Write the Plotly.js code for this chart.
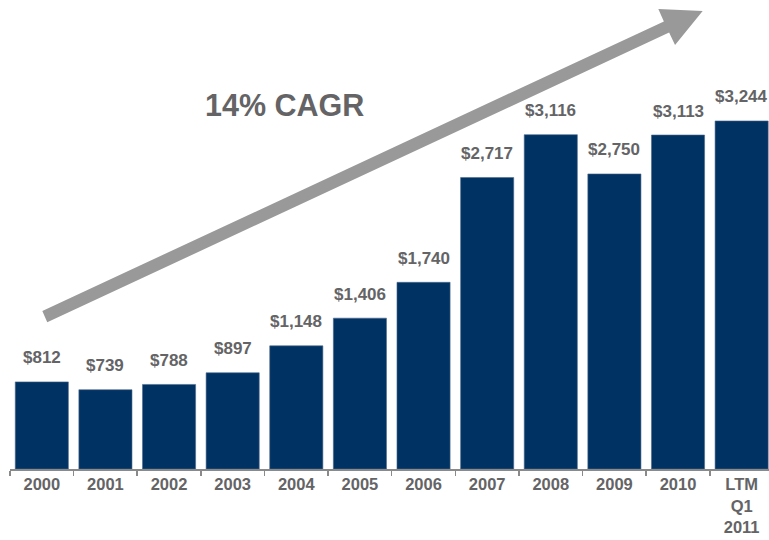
<!DOCTYPE html>
<html>
<head>
<meta charset="utf-8">
<script src="https://cdn.plot.ly/plotly-3.0.1.min.js"></script>
<style>html,body{margin:0;padding:0;background:#fff;}#chart{width:769px;height:540px;}</style>
</head>
<body>
<div id="chart"></div>
<script>
const categories = ["2000","2001","2002","2003","2004","2005","2006","2007","2008","2009","2010","LTM<br>Q1<br>2011"];
const values = [812, 739, 788, 897, 1148, 1406, 1740, 2717, 3116, 2750, 3113, 3244];
const valueLabels = ["$812","$739","$788","$897","$1,148","$1,406","$1,740","$2,717","$3,116","$2,750","$3,113","$3,244"];
const cagrText = "14% CAGR";

const W = 769, H = 540;
const M = {l: 10, r: 0, t: 10, b: 71};
const pw = W - M.l - M.r, ph = H - M.t - M.b;
function px(x){ return (x - M.l) / pw; }
function py(y){ return (H - M.b - y) / ph; }

// decorative arrow polygon (pixel points converted to paper coords)
const arrowPts = [[42.3,311],[663.9,21.4],[658.3,9],[702.7,11],[675,45],[669.1,32.6],[47.3,322.3]];
const arrowPath = arrowPts.map((p,i)=>(i?'L':'M')+px(p[0]).toFixed(4)+','+py(p[1]).toFixed(4)).join(' ')+' Z';

const font = 'Arial, "Liberation Sans", sans-serif';
const textColor = '#646466';

const trace = {
  type: 'bar',
  x: categories,
  y: values,
  marker: {color: '#003263', line: {color: '#4d6a8c', width: 0.6}},
  hoverinfo: 'skip'
};

const annotations = categories.map((c,i)=>({
  x: i, y: values[i], xref: 'x', yref: 'y',
  text: valueLabels[i], showarrow: false,
  yanchor: 'middle', yshift: 24,
  font: {family: font, size: 17, color: textColor, weight: 'bold'}
}));
annotations.push({
  xref: 'paper', yref: 'paper', x: px(284), y: py(105.5),
  text: cagrText, showarrow: false, xanchor: 'center', yanchor: 'middle',
  font: {family: font, size: 30.5, color: textColor, weight: 'bold'}
});

const layout = {
  width: W, height: H,
  margin: M,
  paper_bgcolor: '#fff', plot_bgcolor: '#fff',
  showlegend: false,
  bargap: 0.165,
  xaxis: {
    type: 'category',
    range: [-0.5, 11.43],
    showline: true, linecolor: '#8a8a8a', linewidth: 1.5,
    ticks: 'outside', tickson: 'boundaries', ticklen: 5, tickcolor: '#8a8a8a', tickwidth: 1.5,
    ticklabelstandoff: 0,
    tickfont: {family: font, size: 16.5, color: textColor, weight: 'bold'},
    showgrid: false, zeroline: false, fixedrange: true
  },
  yaxis: {
    range: [0, 4278], visible: false, showgrid: false, zeroline: false
  },
  shapes: [{
    type: 'path', xref: 'paper', yref: 'paper', path: arrowPath,
    fillcolor: '#999999', line: {width: 0}, layer: 'above'
  }],
  annotations: annotations
};

Plotly.newPlot('chart', [trace], layout, {displayModeBar: false, staticPlot: true});
</script>
</body>
</html>
